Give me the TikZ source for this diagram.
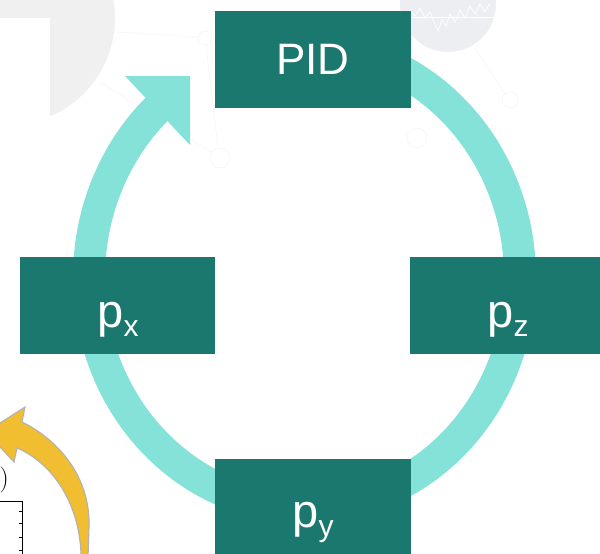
\documentclass[tikz,border=0pt]{standalone}
\usepackage{fontspec}
\newfontfamily\labelfont{Liberation Sans}
\definecolor{boxteal}{HTML}{1B786E}
\definecolor{ringcyan}{HTML}{84E2D8}
\definecolor{arrowgold}{HTML}{F0BE30}
\definecolor{softgrey}{HTML}{F0F0F0}
\definecolor{chartgrey}{HTML}{EDEEF1}
% p with a lowered index letter
\newcommand\plabel[1]{{\fontsize{47}{50}\selectfont p}\raisebox{-9pt}{\fontsize{30}{32}\selectfont #1}}
\begin{document}
\begin{tikzpicture}[x=1pt,y=-1pt,
  stage/.style={fill=boxteal, draw=none, inner sep=0pt, anchor=north west,
                minimum height=97pt},
  lbl/.style={text=white, font=\labelfont, inner sep=0pt, anchor=base},
  faint/.style={draw=black!3, line width=0.8pt},
  cycleband/.style={draw=ringcyan, line width=32pt, line cap=butt},
]
\useasboundingbox (0,0) rectangle (600,554);

% faint background pieces
\fill[softgrey] (8,18) circle[radius=107];
\fill[white] (0,18) rectangle (50,560);
\fill[chartgrey] (448,4) circle[radius=48];
\draw[white, line width=0.7pt] plot coordinates {(404,14) (410,10) (415,16) (420,8) (425,18)
  (430,12) (434,22) (438,31) (442,20) (446,26) (450,14) (455,22) (460,10) (465,18)
  (470,6) (475,14) (480,4) (485,12) (490,3)};
\draw[white, line width=0.4pt] (402,17) -- (494,17);
\draw[faint] (475,48) -- (505,94);
\draw[faint] (510,100) circle[radius=8];
\draw[faint] (417,138) circle[radius=10];
\draw[faint] (115,32) -- (198,37);
\draw[faint] (205,38) circle[radius=7];
\draw[faint] (206,45) -- (218,148);
\draw[faint] (100,82) -- (211,152);
\draw[faint] (220,158) circle[radius=10];

% fragment of a neighbouring plot
\node[inner sep=0pt, anchor=east, font=\fontsize{26}{26}\selectfont] (paren) at (9,480) {)};
\coordinate (axtl) at (0,501);
\coordinate (axtr) at (22,501);
\coordinate (axbr) at (22,556);
\draw[line width=0.8pt] (axtl) -- (axtr) -- (axbr);
\foreach \ty in {511,523,537,550} \draw[line width=0.8pt] (22,\ty) -- (19,\ty);

% gold curved arrow
\fill[arrowgold, draw=black!30, line width=1.1pt]
  (-14,432) -- (25,407) -- (22,422)
  .. controls (55,438) and (91,474) .. (89,528) -- (88,558) -- (81,558)
  -- (81,554) .. controls (79,500) and (50,462) .. (17,448)
  -- (14,462) -- cycle;

% cycle band with its head
\draw[cycleband] plot[domain=-230:100, samples=120, smooth]
  ({304.5+215.5*cos(\x)}, {277-230.6*sin(\x)});
\fill[ringcyan] (190,76) -- (125,76) -- (190,145) -- cycle;

% stages
\node[stage, minimum width=196pt] (pid) at (215,11) {};
\node[stage, minimum width=195pt] (px) at (20,257) {};
\node[stage, minimum width=190pt] (pz) at (410,257) {};
\node[stage, minimum width=196pt] (py) at (215,459) {};

\node[lbl, font=\labelfont\fontsize{44}{48}\selectfont] (pidtext) at (313,74) {PID};
\node[lbl] (pxtext) at (118,327) {\plabel{x}};
\node[lbl] (pztext) at (508,327) {\plabel{z}};
\node[lbl] (pytext) at (313,527) {\plabel{y}};
\end{tikzpicture}
\end{document}
